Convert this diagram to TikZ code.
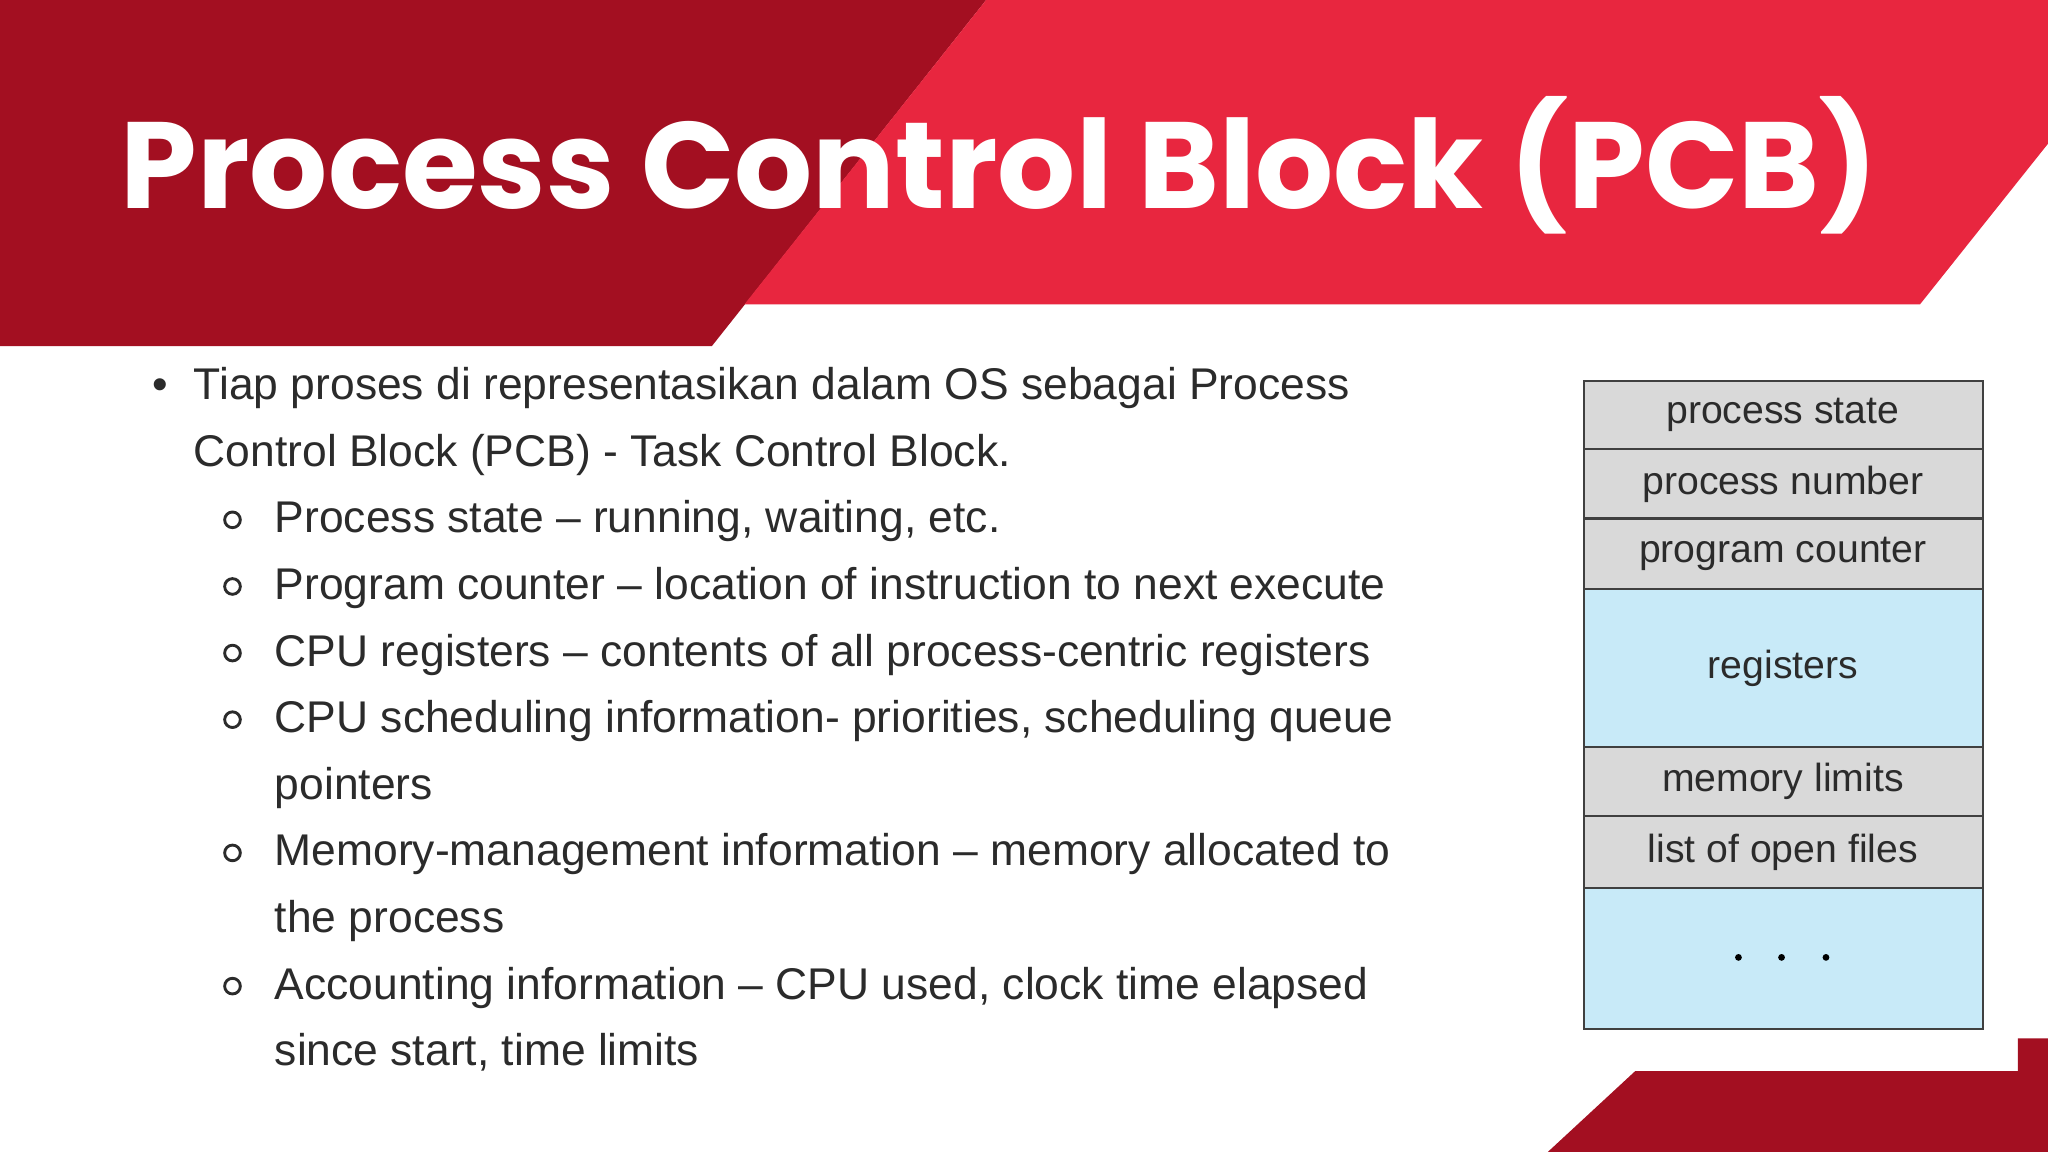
\documentclass[tikz,border=0pt]{standalone}
\usepackage{fontspec}
\setmainfont{Liberation Sans}
\newfontfamily\titlefont{Poppins}
\definecolor{dred}{HTML}{A30F21}
\definecolor{bred}{HTML}{E8263F}
\definecolor{txt}{HTML}{2B2B2B}
\definecolor{cgray}{HTML}{D9D9D9}
\definecolor{cblue}{HTML}{C8EAF8}
\begin{document}
\begin{tikzpicture}[x=0.5pt,y=-0.5pt,
  line/.style={anchor=base west,inner sep=0,text=txt,font=\fontsize{17}{20}\selectfont},
  cell/.style={draw=black!75,line width=0.8pt},
  celltext/.style={text=txt,font=\fontsize{15}{18}\selectfont}]
\useasboundingbox (0,0) rectangle (1568,882);
\fill[white] (0,0) rectangle (1568,882);
\fill[dred] (0,0) -- (755,0) -- (545,265) -- (0,265) -- cycle;
\fill[bred] (755,0) -- (1568,0) -- (1568,110) -- (1470,233) -- (570,233) -- cycle;
\fill[dred] (1252,820) -- (1545,820) -- (1545,795) -- (1568,795) -- (1568,882) -- (1185,882) -- cycle;
\node[anchor=base west,inner sep=0,text=white,font=\titlefont\bfseries\fontsize{47}{50}\selectfont] (title) at (92,160) {Process Control Block (PCB)};
% bullets
\node[line] (b0) at (116,306) {•};
\node[line] (l1) at (148,306) {Tiap proses di representasikan dalam OS sebagai Process};
\node[line] (l2) at (148,357) {Control Block (PCB) - Task Control Block.};
\foreach \y/\t [count=\i] in {408/{Process state – running, waiting, etc.},459/{Program counter – location of instruction to next execute},510/{CPU registers – contents of all process-centric registers},561/{CPU scheduling information- priorities, scheduling queue},663/{Memory-management information – memory allocated to},765/{Accounting information – CPU used, clock time elapsed}}{
  \node[line] (s\i) at (210,\y) {\t};
  \node[draw=txt,circle,line width=1.1pt,minimum size=6pt,inner sep=0] (c\i) at (178,\y-10) {};
}
\node[line] (s4b) at (210,612) {pointers};
\node[line] (s5b) at (210,714) {the process};
\node[line] (s6b) at (210,816) {since start, time limits};
% PCB
\foreach \a/\b/\c/\t/\n in {292/344/cgray/process state/p1,344/397/cgray/process number/p2,397/451/cgray/program counter/p3,451/572/cblue/registers/p4,572/625/cgray/memory limits/p5,625/680/cgray/list of open files/p6,680/788/cblue/{}/p7}{
  \filldraw[cell,fill=\c] (1213,\a) rectangle (1518,\b);
  \node[celltext] (\n) at (1365,{(\a+\b)/2}) {\t};
}
\foreach \x in {1331,1364,1398} \fill[black] (\x,733) circle (2.6);
\end{tikzpicture}
\end{document}
